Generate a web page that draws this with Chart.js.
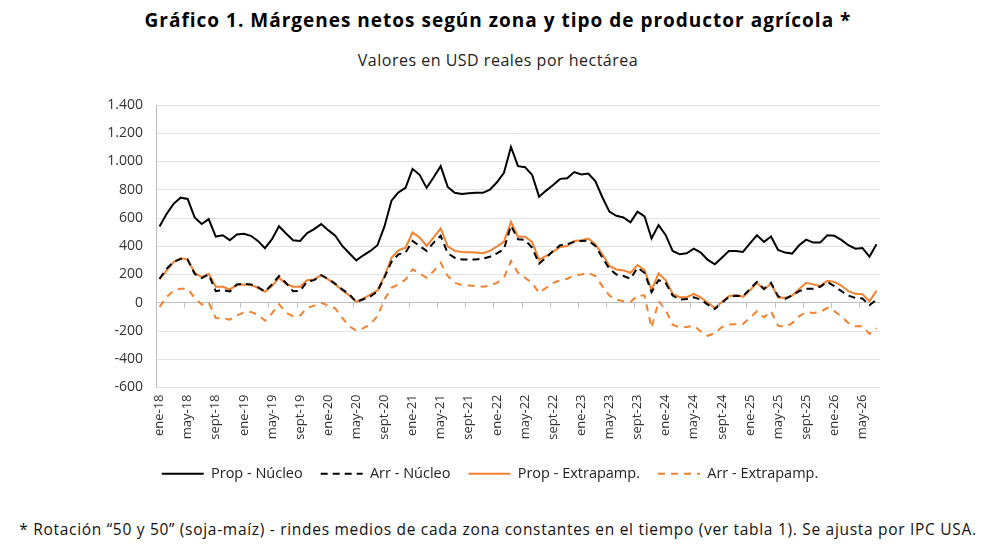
<!DOCTYPE html>
<html>
<head>
<meta charset="utf-8">
<script src="https://cdn.jsdelivr.net/npm/chart.js@4.4.1/dist/chart.umd.min.js"></script>
<style>
  body { margin: 0; width: 996px; height: 553px; background: #fff; position: relative; overflow: hidden; font-family: "Open Sans", sans-serif; }
  #titulo { position: absolute; top: 7px; left: 0; width: 996px; text-align: center; font-weight: bold; font-size: 19px; letter-spacing: 1px; color: #000; }
  #subtitulo { position: absolute; top: 49px; left: 0; width: 996px; text-align: center; font-size: 16px; letter-spacing: 0.5px; color: #222; }
  #nota { position: absolute; top: 518px; left: 0; width: 996px; text-align: center; font-size: 15.5px; letter-spacing: 0.7px; color: #111; }
  #grafico { position: absolute; top: 0; left: 0; width: 996px; height: 510px; }
</style>
</head>
<body>
<div id="titulo">Gráfico 1. Márgenes netos según zona y tipo de productor agrícola *</div>
<div id="subtitulo">Valores en USD reales por hectárea</div>
<div id="grafico"><canvas id="myChart"></canvas></div>
<div id="nota">* Rotación “50 y 50” (soja-maíz) - rindes medios de cada zona constantes en el tiempo (ver tabla 1). Se ajusta por IPC USA.</div>
<script>
// meses (ene-18 a jul-26)
const meses = [
  "ene-18","feb-18","mar-18","abr-18","may-18","jun-18","jul-18","ago-18","sept-18","oct-18","nov-18","dic-18",
  "ene-19","feb-19","mar-19","abr-19","may-19","jun-19","jul-19","ago-19","sept-19","oct-19","nov-19","dic-19",
  "ene-20","feb-20","mar-20","abr-20","may-20","jun-20","jul-20","ago-20","sept-20","oct-20","nov-20","dic-20",
  "ene-21","feb-21","mar-21","abr-21","may-21","jun-21","jul-21","ago-21","sept-21","oct-21","nov-21","dic-21",
  "ene-22","feb-22","mar-22","abr-22","may-22","jun-22","jul-22","ago-22","sept-22","oct-22","nov-22","dic-22",
  "ene-23","feb-23","mar-23","abr-23","may-23","jun-23","jul-23","ago-23","sept-23","oct-23","nov-23","dic-23",
  "ene-24","feb-24","mar-24","abr-24","may-24","jun-24","jul-24","ago-24","sept-24","oct-24","nov-24","dic-24",
  "ene-25","feb-25","mar-25","abr-25","may-25","jun-25","jul-25","ago-25","sept-25","oct-25","nov-25","dic-25",
  "ene-26","feb-26","mar-26","abr-26","may-26","jun-26","jul-26"
];

const propNucleo = [
  540, 628, 700, 744, 735, 604, 557, 592, 469, 478, 443, 483,
  488, 474, 438, 386, 450, 542, 490, 443, 438, 493, 521, 557,
  514, 474, 402, 350, 300, 336, 367, 407, 540, 723, 782, 813,
  948, 906, 813, 889, 967, 820, 778, 770, 775, 778, 778, 801,
  853, 920, 1103, 967, 960, 906, 751, 794, 834, 877, 882, 925,
  908, 915, 862, 747, 645, 616, 604, 570, 645, 612, 455, 550,
  480, 367, 343, 350, 383, 355, 303, 272, 319, 367, 367, 360,
  421, 478, 431, 469, 374, 355, 348, 407, 447, 426, 426, 478,
  474, 445, 407, 383, 388, 326, 414
];

const arrNucleo = [
  170, 240, 290, 310, 305, 205, 175, 200, 82, 89, 80, 130,
  135, 130, 110, 80, 130, 189, 140, 82, 85, 150, 160, 195,
  170, 135, 95, 60, 5, 25, 45, 80, 180, 290, 343, 355,
  438, 402, 367, 426, 474, 350, 319, 307, 307, 307, 312, 326,
  350, 379, 545, 450, 445, 390, 277, 319, 367, 407, 414, 431,
  438, 440, 402, 319, 241, 200, 189, 170, 248, 212, 75, 160,
  141, 51, 22, 27, 39, 22, -13, -44, 0, 42, 50, 46,
  98, 148, 98, 141, 46, 27, 51, 82, 100, 100, 113, 148,
  118, 82, 51, 34, 30, -18, 22
];

const propExtra = [
  165, 228, 288, 315, 307, 212, 182, 205, 113, 113, 94, 125,
  130, 125, 106, 77, 118, 177, 134, 113, 113, 160, 165, 196,
  165, 130, 89, 51, 6, 30, 58, 87, 189, 319, 371, 390,
  497, 462, 402, 462, 526, 400, 367, 360, 357, 355, 350, 367,
  398, 431, 573, 467, 467, 431, 303, 331, 362, 395, 402, 438,
  443, 455, 414, 343, 260, 236, 229, 212, 267, 231, 89, 208,
  160, 63, 39, 39, 63, 39, 0, -37, 6, 46, 55, 42,
  89, 141, 94, 134, 39, 34, 51, 98, 141, 130, 118, 155,
  148, 122, 82, 63, 61, 11, 84
];

const arrExtra = [
  -30, 40, 85, 100, 100, 35, -13, 0, -108, -110, -120, -90,
  -68, -65, -85, -127, -75, -10, -70, -95, -90, -37, -20, 0,
  -20, -40, -108, -167, -198, -180, -150, -96, 22, 106, 130, 165,
  236, 207, 177, 224, 283, 190, 141, 125, 122, 118, 113, 122,
  141, 177, 296, 212, 177, 141, 70, 106, 141, 160, 170, 193,
  200, 212, 189, 118, 51, 22, 11, 5, 51, 51, -178, 11,
  -49, -155, -174, -172, -162, -203, -234, -215, -172, -155, -152, -150,
  -108, -60, -103, -60, -162, -172, -144, -96, -65, -72, -65, -37,
  -60, -96, -144, -167, -167, -220, -180
];

const naranja = "#F28130";
const fuente = "'Open Sans', sans-serif";

// marcas del eje horizontal sobre la línea del cero
const marcasCero = {
  id: "marcasCero",
  afterDatasetsDraw(chart) {
    const x = chart.scales.x;
    const y = chart.scales.y;
    const y0 = y.getPixelForValue(0);
    const mitad = (x.getPixelForValue(1) - x.getPixelForValue(0)) / 2;
    const ctx = chart.ctx;
    ctx.save();
    ctx.strokeStyle = "#bfbfbf";
    ctx.lineWidth = 1;
    ctx.setLineDash([]);
    ctx.beginPath();
    for (let i = 0; i <= meses.length; i += 4) {
      const px = Math.round(x.getPixelForValue(i) - mitad) + 0.5;
      ctx.moveTo(px, y0);
      ctx.lineTo(px, y0 + 5);
    }
    ctx.stroke();
    ctx.restore();
  },
};

Chart.defaults.font.family = fuente;
Chart.defaults.color = "#333";

const ctx = document.getElementById("myChart").getContext("2d");
const myChart = new Chart(ctx, {
  type: "line",
  data: {
    labels: meses,
    datasets: [
      { label: "Prop - Núcleo", data: propNucleo, borderColor: "#000", backgroundColor: "#000", borderWidth: 2 },
      { label: "Arr - Núcleo", data: arrNucleo, borderColor: "#000", backgroundColor: "#000", borderWidth: 2, borderDash: [7, 5] },
      { label: "Prop - Extrapamp.", data: propExtra, borderColor: naranja, backgroundColor: naranja, borderWidth: 2 },
      { label: "Arr - Extrapamp.", data: arrExtra, borderColor: naranja, backgroundColor: naranja, borderWidth: 2, borderDash: [7, 6] },
    ],
  },
  options: {
    responsive: true,
    maintainAspectRatio: false,
    animation: false,
    elements: {
      point: { radius: 0 },
      line: { tension: 0 },
    },
    layout: {
      padding: { top: 105, left: 100, right: 116, bottom: 19 },
    },
    scales: {
      x: {
        type: "category",
        offset: true,
        grid: { display: false, drawTicks: false },
        border: { display: false },
        afterFit: (s) => { s.height = 61; },
        ticks: {
          autoSkip: false,
          minRotation: 90,
          maxRotation: 90,
          padding: 7,
          color: "#333",
          font: { size: 13 },
          callback: function (value, index) {
            return index % 4 === 0 ? meses[index] : "";
          },
        },
      },
      y: {
        min: -600,
        max: 1400,
        grid: {
          color: (c) => (c.tick && c.tick.value === 0 ? "#bfbfbf" : "#e3e3e3"),
          drawTicks: false,
        },
        border: { display: true, color: "#bfbfbf" },
        afterFit: (s) => { s.width = 56; },
        ticks: {
          stepSize: 200,
          padding: 13,
          color: "#333",
          font: { size: 14 },
          callback: (v) => v.toLocaleString("de-DE"),
        },
      },
    },
    plugins: {
      legend: {
        position: "bottom",
        labels: {
          usePointStyle: true,
          pointStyle: "line",
          pointStyleWidth: 42,
          boxHeight: 14,
          padding: 18,
          color: "#222",
          font: { size: 14.5 },
          // la leyenda toma el trazo discontinuo de cada serie
          generateLabels: (chart) =>
            Chart.defaults.plugins.legend.labels.generateLabels(chart).map((item) => {
              const ds = chart.data.datasets[item.datasetIndex];
              item.lineDash = ds.borderDash || [];
              item.strokeStyle = ds.borderColor;
              item.lineWidth = 2;
              return item;
            }),
        },
      },
      tooltip: { enabled: false },
    },
  },
  plugins: [marcasCero],
});
</script>
</body>
</html>
